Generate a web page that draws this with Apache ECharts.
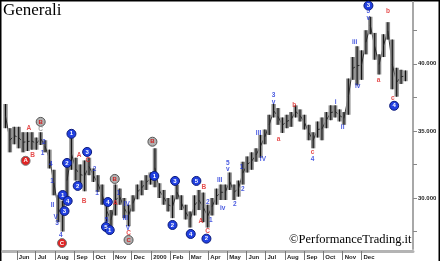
<!DOCTYPE html>
<html><head><meta charset="utf-8">
<script src="https://cdn.jsdelivr.net/npm/echarts@6/dist/echarts.min.js"></script>
<style>html,body{margin:0;padding:0;background:#fff}#c{width:440px;height:261px}</style>
</head><body><div id="c"></div>
<script>
const weekDates = ['1999-05-14','1999-05-21','1999-05-28','1999-06-04','1999-06-11','1999-06-18','1999-06-25','1999-07-02','1999-07-09','1999-07-16','1999-07-23','1999-07-30','1999-08-06','1999-08-13','1999-08-20','1999-08-27','1999-09-03','1999-09-10','1999-09-17','1999-09-24','1999-10-01','1999-10-08','1999-10-15','1999-10-22','1999-10-29','1999-11-05','1999-11-12','1999-11-19','1999-11-26','1999-12-03','1999-12-10','1999-12-17','1999-12-24','1999-12-31','2000-01-07','2000-01-14','2000-01-21','2000-01-28','2000-02-04','2000-02-11','2000-02-18','2000-02-25','2000-03-03','2000-03-10','2000-03-17','2000-03-24','2000-03-31','2000-04-07','2000-04-14','2000-04-21','2000-04-28','2000-05-05','2000-05-12','2000-05-19','2000-05-26','2000-06-02','2000-06-09','2000-06-16','2000-06-23','2000-06-30','2000-07-07','2000-07-14','2000-07-21','2000-07-28','2000-08-04','2000-08-11','2000-08-18','2000-08-25','2000-09-01','2000-09-08','2000-09-15','2000-09-22','2000-09-29','2000-10-06','2000-10-13','2000-10-20','2000-10-27','2000-11-03','2000-11-10','2000-11-17','2000-11-24','2000-12-01','2000-12-08','2000-12-15','2000-12-22','2000-12-29','2001-01-05','2001-01-12','2001-01-19','2001-01-26','2001-02-02','2001-02-09'];
const highs = [37.0,35.2,35.3,35.3,34.9,34.9,34.9,34.5,34.9,34.3,33.6,32.1,30.2,29.8,32.8,34.5,33.0,32.5,32.8,33.0,32.2,31.7,31.0,29.9,29.1,31.0,30.7,30.0,29.5,30.2,31.0,31.3,31.7,31.9,33.7,31.1,30.6,30.0,30.2,31.0,30.2,29.5,29.0,30.2,30.6,30.4,29.5,30.0,30.7,31.0,31.0,31.9,31.0,31.3,32.7,33.1,33.4,33.7,34.7,35.1,36.2,37.0,36.7,36.0,36.2,36.4,36.9,36.6,36.2,35.45,34.9,35.7,36.0,36.4,36.9,36.9,36.6,36.4,38.9,40.5,41.3,41.0,42.5,43.5,42.3,40.7,42.2,43.1,41.8,39.7,39.55,39.5];
const lows  = [35.2,33.4,34.0,33.7,33.4,33.5,33.6,33.6,33.95,33.4,32.2,30.2,28.2,27.5,29.8,32.1,31.3,31.0,30.5,31.7,31.2,30.45,29.5,28.2,27.6,28.7,29.5,28.5,27.9,29.0,29.9,30.2,30.6,31.0,30.8,30.0,29.5,29.0,28.5,29.9,29.1,28.4,27.8,28.7,29.1,28.2,27.8,28.7,29.5,29.85,29.85,30.6,29.85,30.1,31.0,31.9,32.1,32.7,33.0,34.0,34.7,36.0,35.45,34.85,35.2,35.3,36.0,35.7,35.1,34.3,33.7,34.5,34.3,35.2,35.8,36.0,35.7,35.45,36.2,38.8,38.4,38.8,40.7,42.2,40.3,39.2,40.5,41.8,38.1,37.55,38.5,38.7];

const monthTicks = ['1999-06-01','1999-07-01','1999-08-01','1999-09-01','1999-10-01','1999-11-01','1999-12-01','2000-01-01','2000-02-01','2000-03-01','2000-04-01','2000-05-01','2000-06-01','2000-07-01','2000-08-01','2000-09-01','2000-10-01','2000-11-01','2000-12-01'];
const monthLabels = ['Jun','Jul','Aug','Sep','Oct','Nov','Dec','2000','Feb','Mar','Apr','May','Jun','Jul','Aug','Sep','Oct','Nov','Dec'];
const priceTicks = [27.5,30,32.5,35,37.5,40,42.5];
const priceLabels = [30,35,40];

const redCircles = [['1999-06-15',32.77,'A'],['1999-08-12',26.64,'C']];
const grayCircles = [['1999-07-09',35.67,'B'],['1999-11-04',31.42,'B'],['1999-11-26',26.87,'C'],['2000-01-03',34.19,'B']];
const blueCircles = [['1999-08-13',30.22,'1'],['1999-08-21',29.78,'4'],['1999-08-16',29.03,'3'],['1999-08-20',32.61,'2'],['1999-08-27',34.78,'1'],['1999-09-06',30.9,'2'],['1999-09-21',33.43,'3'],['1999-10-24',29.7,'4'],['1999-10-21',27.84,'5'],['1999-10-27',27.61,'1'],['2000-01-06',31.64,'1'],['2000-02-04',27.99,'2'],['2000-02-08',31.27,'3'],['2000-03-04',27.32,'4'],['2000-03-13',31.27,'5'],['2000-03-29',26.97,'2'],['2000-12-12',44.33,'3'],['2001-01-22',36.87,'4']];
const blueText = [['1999-07-14',34.19,'2'],['1999-07-12',33.3,'1'],['1999-07-25',32.54,'4'],['1999-07-27',31.27,'1'],['1999-07-28',29.48,'II'],['1999-08-02',28.58,'V'],['1999-08-04',28.13,'3'],['1999-08-10',27.24,'4'],['1999-10-03',32.16,'2'],['1999-10-07',30.37,'1'],['1999-10-22',28.36,'5'],['1999-11-10',30.37,'1'],['1999-11-23',29.55,'IV'],['1999-11-21',28.51,'III'],['1999-11-25',27.76,'V'],['2000-03-31',29.72,'2'],['2000-04-05',28.31,'1'],['2000-04-19',31.34,'III'],['2000-04-24',29.25,'iv'],['2000-05-02',32.61,'5'],['2000-05-02',32.16,'v'],['2000-05-13',29.55,'2'],['2000-05-26',30.67,'2'],['2000-05-24',32.31,'1'],['2000-06-20',34.85,'III'],['2000-06-27',32.91,'IV'],['2000-07-14',37.69,'3'],['2000-07-14',37.16,'v'],['2000-09-14',32.91,'4'],['2000-10-21',37.16,'i'],['2000-11-01',35.3,'ii'],['2000-11-20',41.57,'iii'],['2000-11-25',38.36,'iv'],['2000-12-12',43.88,'5'],['2000-12-12',43.43,'v']];
const redText = [['1999-06-20',35.22,'A'],['1999-06-26',33.21,'B'],['1999-09-08',33.21,'A'],['1999-09-16',29.78,'B'],['1999-09-22',32.84,'C'],['1999-11-05',29.63,'A'],['1999-11-26',27.39,'C'],['2000-03-20',28.24,'A'],['2000-03-25',30.84,'B'],['2000-03-31',27.49,'C'],['2000-07-22',34.4,'a'],['2000-08-16',36.94,'b'],['2000-09-14',33.43,'c'],['2000-12-28',38.81,'a'],['2001-01-12',43.88,'b'],['2001-01-20',37.46,'c']];
const grayText = [['1999-07-09',35.15,'C']];

function ts(s){ return +new Date(s + 'T00:00:00'); }
const bars = weekDates.map((d,i)=>[ts(d), lows[i], highs[i]]);
const tickTs = monthTicks.map(ts);
const conv = arr => arr.map(a=>[ts(a[0]), a[1], a[2]]);

const chart = echarts.init(document.getElementById('c'), null, {renderer:'canvas'});
const txtLabel = color => ({show:true, position:'inside', formatter:p=>p.data[2], color, fontSize:6.5, fontWeight:'bold', fontFamily:'Liberation Sans'});
const circleSeries = (data, fill, border, tcol) => ({type:'scatter', data:conv(data), symbol:'circle', symbolSize:9, z:5,
  itemStyle:{color:fill, borderColor:border, borderWidth:1, opacity:1},
  label:{show:true, position:'inside', formatter:p=>p.data[2], color:tcol, fontSize:6, fontWeight:'bold', fontFamily:'Liberation Sans'}});
const textSeries = (data, color) => ({type:'scatter', data:conv(data), symbolSize:2, itemStyle:{color:'rgba(0,0,0,0)'}, z:6, label:txtLabel(color)});

chart.setOption({
  animation:false,
  backgroundColor:'#fff',
  grid:{left:3, right:27, top:2, bottom:12},
  xAxis:{type:'value', min:ts('1999-05-10'), max:ts('2001-02-21'),
    offset:2,
    axisLine:{show:true, lineStyle:{color:'#b4b4b4', width:3}},
    axisTick:{show:true, customValues:tickTs, length:9, lineStyle:{color:'#777', width:1}},
    axisLabel:{show:true, customValues:tickTs, align:'left', margin:3, padding:[0,0,0,2],
      formatter:v=>{const i=tickTs.indexOf(v); return i>=0?monthLabels[i]:'';},
      color:'#222', fontSize:6, fontWeight:'bold', fontFamily:'Liberation Sans'},
    splitLine:{show:false}},
  yAxis:{type:'value', position:'right', min:26.2, max:44.6,
    axisLine:{show:true, lineStyle:{color:'#a8a8a8', width:2}},
    axisTick:{show:true, customValues:priceTicks, length:4, lineStyle:{color:'#888'}},
    axisLabel:{show:true, customValues:priceLabels, formatter:v=>v.toFixed(3), margin:5,
      color:'#222', fontSize:6, fontWeight:'bold', fontFamily:'Liberation Sans'},
    splitLine:{show:false}},
  graphic:[
    {type:'text', left:3, top:2, style:{text:'Generali', font:'17px "Liberation Serif"', fill:'#000'}},
    {type:'text', left:289, top:233, style:{text:'\u00A9PerformanceTrading.it', font:'12.5px "Liberation Serif"', fill:'#000'}},
    {type:'rect', shape:{x:0, y:0, width:440, height:1.5}, style:{fill:'#000'}},
    {type:'rect', shape:{x:0, y:0, width:1.5, height:261}, style:{fill:'#000'}},
    {type:'rect', shape:{x:438.5, y:0, width:1.5, height:261}, style:{fill:'#000'}}
  ],
  series:[
    {type:'custom', data:bars, z:2,
      renderItem:(params, api)=>{
        const i=params.dataIndex;
        const t=api.value(0), lo=api.value(1), hi=api.value(2);
        const a=api.coord([t,hi]), b=api.coord([t,lo]);
        const kids=[
          {type:'rect', shape:{x:a[0]-2.2, y:a[1], width:4.4, height:b[1]-a[1]}, style:{fill:'#8e8e8e'}},
          {type:'line', shape:{x1:a[0], y1:a[1], x2:b[0], y2:b[1]}, style:{stroke:'#111', lineWidth:1.1}}
        ];
        if(i+1<bars.length){
          const n=bars[i+1];
          const m1=api.coord([t,(lo+hi)/2]), m2=api.coord([n[0],(n[1]+n[2])/2]);
          kids.push({type:'line', shape:{x1:m1[0], y1:m1[1], x2:m2[0], y2:m2[1]}, style:{stroke:'#222', lineWidth:0.9}});
        }
        return {type:'group', children:kids};
      }},
    circleSeries(blueCircles, '#2140e0', '#0b1a7a', '#fff'),
    circleSeries(redCircles, '#e02424', '#777', '#fff'),
    circleSeries(grayCircles, '#b0b0b0', '#555', '#d02020'),
    textSeries(blueText, '#1a30d8'),
    textSeries(redText, '#e02020'),
    textSeries(grayText, '#888')
  ]
});
</script></body></html>
